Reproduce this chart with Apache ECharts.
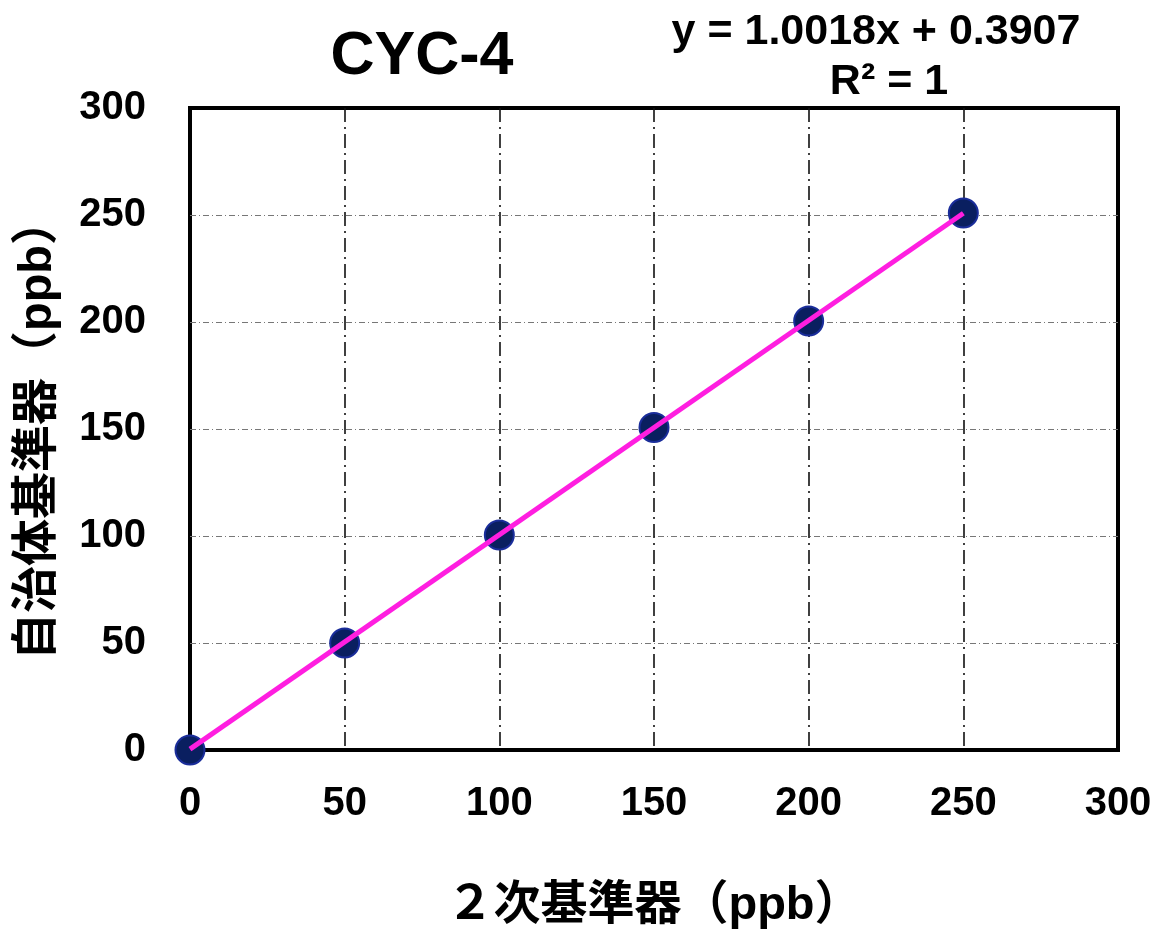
<!DOCTYPE html>
<html><head><meta charset="utf-8">
<script src="https://cdn.jsdelivr.net/npm/echarts@6/dist/echarts.min.js"></script>
<style>html,body{margin:0;padding:0;background:#fff}#c{width:1152px;height:930px}</style>
</head><body><div id="c"></div>
<script>
const xValues = [0, 50, 100, 150, 200, 250];
const yValues = [0, 50, 100.5, 150.7, 200.5, 250.9];
const trendX = [0, 250];
const trendY = [0.4, 250.8];
const titleText = 'CYC-4';
const equationText = 'y = 1.0018x + 0.3907';
const r2Text = 'R² = 1';
const xAxisName = '２次基準器（ppb）';
const yAxisName = '自治体基準器（ppb）';

const FONT = '"Liberation Sans", Arial, "Noto Sans CJK JP", sans-serif';
const chart = echarts.init(document.getElementById('c'));
chart.setOption({
  backgroundColor: '#fff',
  animation: false,
  title: [
    {text: titleText, left: 417, top: 22, textAlign: 'center',
     textStyle: {fontFamily: FONT, fontSize: 61, fontWeight: 'bold', color: '#000'}},
    {text: equationText, left: 871, top: 6, textAlign: 'center',
     textStyle: {fontFamily: FONT, fontSize: 43, fontWeight: 'bold', color: '#000'}},
    {text: r2Text, left: 884, top: 56, textAlign: 'center',
     textStyle: {fontFamily: FONT, fontSize: 43, fontWeight: 'bold', color: '#000'}}
  ],
  grid: {left: 190, right: 34, top: 108, bottom: 180, show: true, outerBoundsMode: 'none', containLabel: false,
         borderColor: '#000', borderWidth: 4, backgroundColor: 'transparent'},
  xAxis: {
    type: 'value', min: 0, max: 300, interval: 50,
    name: xAxisName, nameLocation: 'middle', nameGap: 133,
    nameTextStyle: {fontFamily: FONT, fontSize: 47, fontWeight: 'bold', color: '#000'},
    axisLine: {show: false}, axisTick: {show: false},
    axisLabel: {fontFamily: FONT, fontSize: 40, fontWeight: 'bold', color: '#000', margin: 34},
    splitLine: {show: true, showMinLine: false, showMaxLine: false,
                lineStyle: {color: '#111', width: 1.6, type: [14, 5, 2, 5]}}
  },
  yAxis: {
    type: 'value', min: 0, max: 300, interval: 50,
    name: yAxisName, nameLocation: 'middle', nameGap: 128,
    nameTextStyle: {fontFamily: FONT, fontSize: 47, fontWeight: 'bold', color: '#000'},
    axisLine: {show: false}, axisTick: {show: false},
    axisLabel: {fontFamily: FONT, fontSize: 40, fontWeight: 'bold', color: '#000', margin: 44},
    splitLine: {show: true, showMinLine: false, showMaxLine: false,
                lineStyle: {color: '#777', width: 1, type: [6, 3, 1, 3]}}
  },
  series: [
    {type: 'scatter', data: xValues.map((x, i) => [x, yValues[i]]),
     symbol: 'circle', symbolSize: 29, z: 3,
     itemStyle: {color: '#0a1f60', borderColor: '#1a2d9a', borderWidth: 2, opacity: 1}},
    {type: 'line', data: trendX.map((x, i) => [x, trendY[i]]),
     symbol: 'none', z: 4,
     lineStyle: {color: '#ff1ee0', width: 5}}
  ]
});
</script></body></html>
